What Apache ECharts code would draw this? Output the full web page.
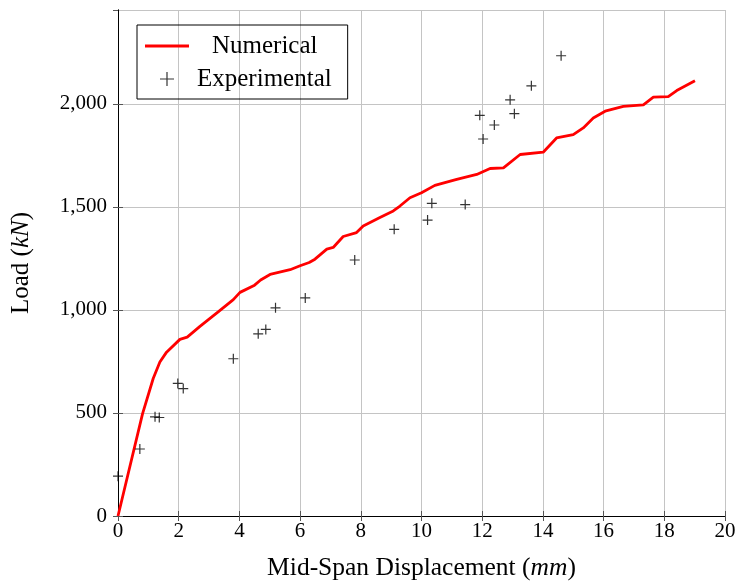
<!DOCTYPE html>
<html><head><meta charset="utf-8">
<script src="https://cdn.jsdelivr.net/npm/echarts@6/dist/echarts.min.js"></script>
<style>html,body{margin:0;padding:0;background:#fff}#c{width:740px;height:586px}</style>
</head><body><div id="c"></div>
<script>
const numericalX = [0,0.81,1.16,1.38,1.6,2.04,2.28,2.7,3.3,3.8,4.02,4.5,4.7,5.01,5.67,6.0,6.3,6.49,6.88,7.09,7.42,7.86,8.08,8.63,9.07,9.29,9.62,10.0,10.44,11.16,11.82,12.26,12.7,13.25,14.01,14.45,15.0,15.33,15.66,16.05,16.65,17.31,17.64,18.13,18.41,19.01];
const numericalY = [0,497,667,747,795,857,868,920,990,1050,1085,1120,1145,1172,1195,1214,1230,1246,1295,1303,1356,1375,1407,1448,1480,1504,1544,1568,1604,1633,1657,1686,1689,1754,1765,1834,1850,1883,1931,1964,1987,1995,2032,2035,2064,2112];
const experimentalX = [0,0.72,1.22,1.36,1.97,2.15,3.80,4.62,4.87,5.19,6.17,7.80,9.10,10.20,10.34,11.44,12.03,11.92,12.40,12.92,13.06,13.62,14.60];
const experimentalY = [193,325,481,478,643,618,763,884,905,1010,1058,1242,1391,1436,1517,1511,1829,1944,1897,2019,1952,2087,2233];
const xTicks = [0,2,4,6,8,10,12,14,16,18,20];
const yTicks = [0,500,1000,1500,2000];

const FONT = '"Liberation Serif","DejaVu Serif",serif';
const chart = echarts.init(document.getElementById('c'));
const numData = numericalX.map((x,i)=>[x,numericalY[i]]);
const expData = experimentalX.map((x,i)=>[x,experimentalY[i]]);
const plus = 'path://M0,5L10,5M5,0L5,10';
const fmt = v => yTicks.includes(v) ? v.toLocaleString('en-US') : '';
const legText = {fontFamily:FONT,fontSize:25,color:'#000',lineHeight:28};
chart.setOption({
  animation:false,
  backgroundColor:'#fff',
  grid:{left:118,right:15,top:10,bottom:68},
  legend:{
    left:137, top:25, orient:'vertical',
    borderColor:'#000', borderWidth:1, padding:[7,16,6,8], itemGap:5,
    itemWidth:44, itemHeight:14,
    textStyle:legText,
    data:[
      {name:'Numerical', icon:'path://M0,5L44,5L44,8L0,8Z', itemStyle:{color:'#ff0000'},
       textStyle:Object.assign({},legText,{padding:[0,0,0,18]})},
      {name:'Experimental', icon:'path://M17,7L27,7M22,2L22,12', itemStyle:{color:'none',borderColor:'#000',borderWidth:1.2},
       textStyle:Object.assign({},legText,{padding:[0,0,0,3]})}
    ]
  },
  xAxis:[{
    type:'value', min:0, max:20, interval:2, position:'bottom',
    name:'Mid-Span Displacement ({i|mm})', nameLocation:'middle', nameGap:39,
    nameTextStyle:{fontFamily:FONT,fontSize:25.5,color:'#000',rich:{i:{fontFamily:FONT,fontSize:25.5,fontStyle:'italic',color:'#000'}}},
    axisLine:{lineStyle:{color:'#000',width:1}},
    axisTick:{inside:true,length:5,lineStyle:{color:'#555'}},
    axisLabel:{fontFamily:FONT,fontSize:21,color:'#000',margin:5},
    splitLine:{show:true,lineStyle:{color:'#c4c4c4',width:1}}
  },{
    type:'value', min:0, max:20, interval:2, position:'top',
    axisLine:{lineStyle:{color:'#000',width:1}},
    axisTick:{inside:true,length:5,lineStyle:{color:'#555'}},
    axisLabel:{show:false}, splitLine:{show:false}
  }],
  yAxis:[{
    type:'value', min:0, max:2455, interval:500, position:'left',
    name:'Load ({i|kN})', nameLocation:'middle', nameGap:84,
    nameTextStyle:{fontFamily:FONT,fontSize:25,color:'#000',rich:{i:{fontFamily:FONT,fontSize:25,fontStyle:'italic',color:'#000'}}},
    axisLine:{show:true,lineStyle:{color:'#000',width:1}},
    axisTick:{show:true,inside:true,length:5,lineStyle:{color:'#555'}},
    axisLabel:{fontFamily:FONT,fontSize:21,color:'#000',margin:11,formatter:fmt,showMaxLabel:false},
    splitLine:{show:true,lineStyle:{color:'#c4c4c4',width:1}}
  },{
    type:'value', min:0, max:2455, interval:500, position:'right',
    axisLine:{show:true,lineStyle:{color:'#000',width:1}},
    axisTick:{show:true,inside:true,length:5,lineStyle:{color:'#555'}},
    axisLabel:{show:false}, splitLine:{show:false}
  }],
  series:[
    {name:'Numerical', type:'line', data:numData, showSymbol:false, symbol:'none',
     lineStyle:{color:'#ff0000',width:2.8}, itemStyle:{color:'#ff0000'}, z:2},
    {name:'Experimental', type:'scatter', data:expData, symbol:plus, symbolSize:10,
     itemStyle:{color:'none',borderColor:'#000',borderWidth:1.2}, z:3}
  ]
});
</script></body></html>
